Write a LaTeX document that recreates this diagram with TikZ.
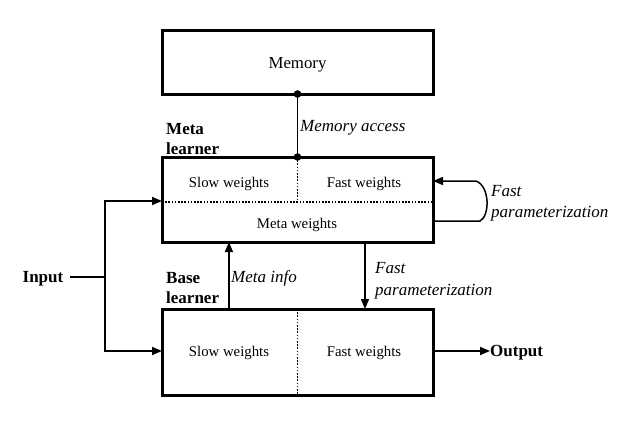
\documentclass[tikz,border=0pt]{standalone}
\usepackage{fontspec}
\setmainfont{Liberation Serif}
\usetikzlibrary{arrows.meta,calc}
\begin{document}
\begin{tikzpicture}[x=1pt,y=-1pt,
  box/.style={draw,line width=3pt,minimum width=271pt,inner sep=0pt,outer sep=0pt},
  wt/.style={font=\fontsize{14.8}{17}\selectfont,inner sep=0pt},
  conn/.style={line width=1.5pt},
  arr/.style={conn,-{Triangle[length=10pt,width=8pt]}},
  divider/.style={line width=1.6pt,dash pattern=on 1.6pt off 1.6pt},
  lab/.style={font=\fontsize{17}{21.5}\selectfont\itshape,align=left,inner sep=0pt,anchor=west},
  bl/.style={font=\fontsize{17}{20}\selectfont\bfseries,align=left,inner sep=0pt,anchor=west}
]
\useasboundingbox (0,0) rectangle (634,428);

% boxes
\node[box,minimum height=63pt] (mem) at (297.5,62.5) {};
\node[font=\fontsize{16.8}{19}\selectfont,inner sep=0pt] (memt) at (297.5,64.5) {Memory};
\node[box,minimum height=85pt] (meta) at (297.5,199.5) {};
\node[box,minimum height=86pt] (base) at (297.5,352) {};

% texts in boxes
\node[wt] (ms) at (229,184) {Slow weights};
\node[wt] (mf) at (364,184) {Fast weights};
\node[wt] (mm) at (297,225) {Meta weights};
\node[wt] (bs) at (229,353) {Slow weights};
\node[wt] (bf) at (364,353) {Fast weights};

% dividers
\draw[divider] (meta.west |- 0,202) -- (meta.east |- 0,202);
\draw[divider] (meta.north) -- (297.5,202);
\draw[divider] (base.north) -- (base.south);

% memory access
\draw[conn] (mem.south) -- (meta.north);
\fill (mem.south) circle (3.8pt);
\fill (meta.north) circle (3.8pt);
\node[lab] (malab) at (300,128) {Memory access};

% labels
\node[bl] (mlearn) at (166,139) {Meta\\learner};
\node[bl] (blearn) at (166,288) {Base\\learner};

% fast parameterization loop
\coordinate (lp1) at (480,221);
\coordinate (lp2) at (476,181);
\draw[arr] (meta.east |- lp1) -- (lp1) .. controls (490,216) and (490,186) .. (lp2) -- (meta.east |- lp2);
\node[lab] (fp1) at (491,203) {Fast\\parameterization};

% fast parameterization down
\draw[arr] ($(meta.south west)!0.749!(meta.south east)$) -- ($(base.north west)!0.749!(base.north east)$);
\node[lab] (fp2) at (375,280.5) {Fast\\parameterization};

% meta info
\draw[arr] ($(base.north west)!0.247!(base.north east)$) -- ($(meta.south west)!0.247!(meta.south east)$);
\node[lab] (mi) at (231,278) {Meta info};

% input
\node[bl,anchor=east] (in) at (63.5,279) {Input};
\coordinate (sp) at (105,277);
\draw[conn,shorten <=6pt] (in.east |- sp) -- (sp);
\draw[arr] (sp) |- (meta.west |- 0,201);
\draw[arr] (sp) |- (base.west |- 0,351);

% output
\node[bl] (out) at (490,353) {Output};
\draw[arr] (base.east |- 0,351) -- (out.west |- 0,351);
\end{tikzpicture}
\end{document}
